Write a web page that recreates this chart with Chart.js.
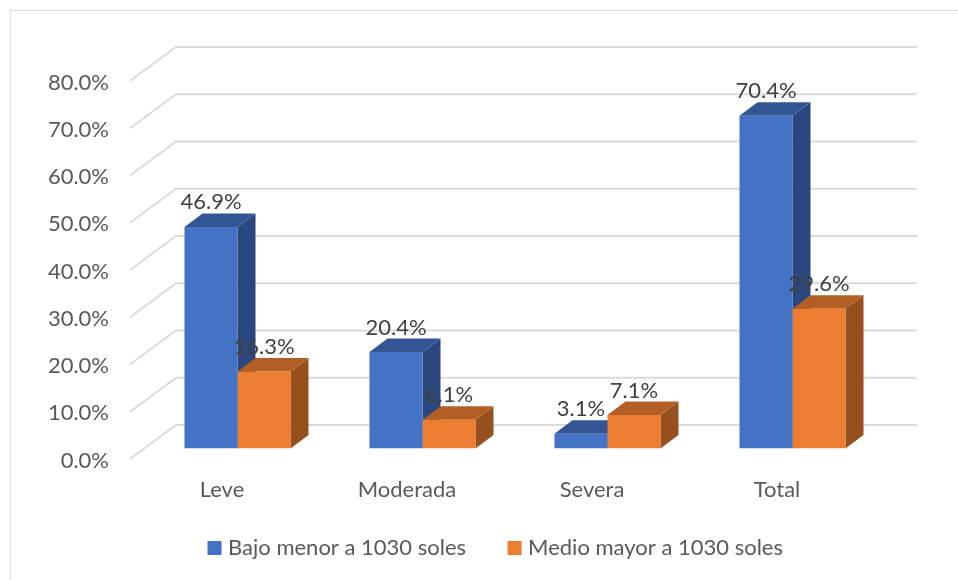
<!DOCTYPE html>
<html lang="es">
<head>
  <meta charset="UTF-8">
  <title>Bajo y medio por categoria</title>
  <script src="https://cdn.jsdelivr.net/npm/chart.js"></script>
  <style>
    html, body { margin: 0; padding: 0; width: 958px; height: 580px; overflow: hidden; background: #fff; }
    #frame { position: absolute; left: 10px; top: 10px; width: 970px; height: 600px; border: 1.5px solid #dcdcdc; }
    canvas { position: absolute; left: 0; top: 0; display: block; }
  </style>
</head>
<body>
  <div id="frame"></div>
  <canvas id="chart" width="958" height="580"></canvas>

  <script>
    const categories = ["Leve", "Moderada", "Severa", "Total"];
    const bajo = [46.9, 20.4, 3.1, 70.4];
    const medio = [16.3, 6.1, 7.1, 29.6];
    const seriesNames = ["Bajo menor a 1030 soles", "Medio mayor a 1030 soles"];

    const FONT = "Lato";
    const FONT_SIZE = 22;
    const DEPTH_X = 18, DEPTH_Y = 13.5;   // bar depth
    const sideColors = ["#2A4780", "#95501D"];
    const topColors = ["#335593", "#B35E24"];

    function poly(ctx, pts, color) {
      ctx.fillStyle = color;
      ctx.beginPath();
      pts.forEach((p, i) => i ? ctx.lineTo(p[0], p[1]) : ctx.moveTo(p[0], p[1]));
      ctx.closePath();
      ctx.fill();
    }

    // fake 3D: back wall gridlines, bar tops and sides, value labels
    const threeD = {
      id: "threeD",
      afterLayout(chart) {
        // x labels sit partly over the legend box, don't let the scale clip them
        chart.scales.x.bottom += 20;
      },
      beforeDatasetsDraw(chart) {
        const { ctx, chartArea, scales } = chart;
        ctx.save();
        ctx.strokeStyle = "#dbdbdb";
        ctx.lineWidth = 2;
        scales.y.ticks.forEach(t => {
          const y = scales.y.getPixelForValue(t.value);
          ctx.beginPath();
          ctx.moveTo(chartArea.left - 15, y + 10.5);
          ctx.lineTo(chartArea.left + 31, y - 23.5);
          ctx.lineTo(chartArea.right + 32, y - 23.5);
          ctx.stroke();
        });
        chart.data.datasets.forEach((ds, d) => {
          chart.getDatasetMeta(d).data.forEach(bar => {
            const l = bar.x - bar.width / 2, r = bar.x + bar.width / 2;
            poly(ctx, [[r, bar.y], [r + DEPTH_X, bar.y - DEPTH_Y], [r + DEPTH_X, bar.base - DEPTH_Y], [r, bar.base]], sideColors[d]);
            poly(ctx, [[l, bar.y], [l + DEPTH_X, bar.y - DEPTH_Y], [r + DEPTH_X, bar.y - DEPTH_Y], [r, bar.y]], topColors[d]);
          });
        });
        ctx.restore();
      },
      afterDatasetsDraw(chart) {
        const { ctx } = chart;
        ctx.save();
        ctx.fillStyle = "#404040";
        ctx.font = FONT_SIZE + "px " + FONT;
        ctx.textAlign = "center";
        ctx.textBaseline = "middle";
        chart.data.datasets.forEach((ds, d) => {
          chart.getDatasetMeta(d).data.forEach((bar, i) => {
            ctx.fillText(ds.data[i].toFixed(1) + "%", bar.x, bar.y - 24.5);
          });
        });
        ctx.restore();
      }
    };

    new Chart(document.getElementById("chart"), {
      type: "bar",
      data: {
        labels: categories,
        datasets: [
          { label: seriesNames[0], data: bajo, backgroundColor: "#4472C4" },
          { label: seriesNames[1], data: medio, backgroundColor: "#ED7D31" }
        ]
      },
      options: {
        responsive: false,
        animation: false,
        layout: { padding: { left: 37, right: 0, top: 70.5, bottom: 11 } },
        datasets: { bar: { barPercentage: 1, categoryPercentage: 0.573 } },
        scales: {
          x: {
            grid: { display: false },
            border: { display: false },
            ticks: { color: "#595959", font: { family: FONT, size: FONT_SIZE }, padding: 20, labelOffset: -15.5, maxRotation: 0 },
            afterFit(s) { s.height = 42.5; }
          },
          y: {
            min: 0,
            max: 80,
            grid: { display: false, drawTicks: false },
            border: { display: false },
            ticks: {
              stepSize: 10,
              color: "#595959",
              font: { family: FONT, size: FONT_SIZE },
              padding: 36,
              labelOffset: 12,
              callback: v => v.toFixed(1) + "%"
            },
            afterFit(s) { s.width = 108; }
          },
          // empty axis, only keeps the plot clear of the right edge
          yRight: {
            position: "right",
            grid: { display: false },
            border: { display: false },
            ticks: { display: false },
            afterFit(s) { s.width = 73; }
          }
        },
        plugins: {
          tooltip: { enabled: false },
          legend: {
            position: "bottom",
            labels: {
              color: "#595959",
              font: { family: FONT, size: FONT_SIZE },
              usePointStyle: true,
              pointStyle: "rect",
              boxWidth: 5,
              boxHeight: 14,
              padding: 46
            }
          }
        }
      },
      plugins: [threeD]
    });
  </script>
</body>
</html>
